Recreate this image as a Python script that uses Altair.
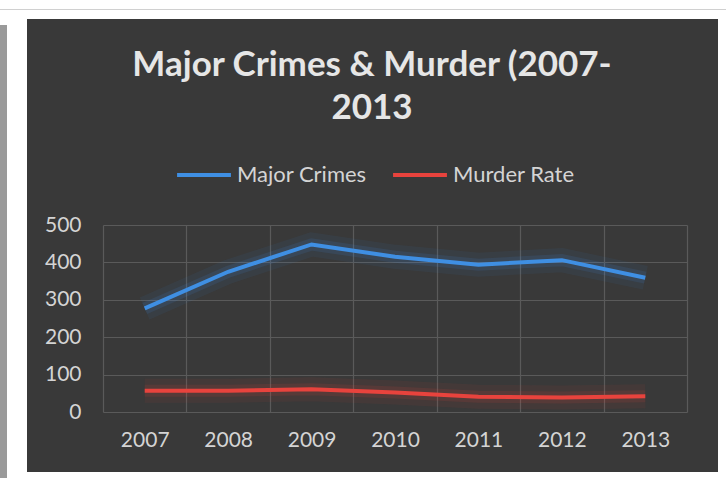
import altair as alt
import pandas as pd

years = ["2007", "2008", "2009", "2010", "2011", "2012", "2013"]
major_crimes = [277, 375, 448, 415, 394, 406, 359]
murder_rate = [57, 57, 61, 52, 41, 39, 42]
series_names = ["Major Crimes", "Murder Rate"]
series_colors = ["#3f8fe3", "#e8433d"]
y_ticks = [0, 100, 200, 300, 400, 500]
title_lines = ["Major Crimes & Murder (2007-", "2013"]

rows = []
for i, yr in enumerate(years):
    rows.append({"year": yr, "series": series_names[0], "value": major_crimes[i]})
    rows.append({"year": yr, "series": series_names[1], "value": murder_rate[i]})
df = pd.DataFrame(rows)

W, H = 584, 187
PL, PT = 103, 225
one = pd.DataFrame({"a": [0]})


def frame_rect(x0, x1, y0, y1, color):
    return alt.Chart(one).mark_rect(color=color, clip=False).encode(
        x=alt.value(x0 - PL), x2=alt.value(x1 - PL),
        y=alt.value(y0 - PT), y2=alt.value(y1 - PT),
    )


frame = [
    frame_rect(0, 726, 0, 19, "#ffffff"),
    frame_rect(0, 27, 0, 478, "#ffffff"),
    frame_rect(718, 726, 0, 478, "#ffffff"),
    frame_rect(0, 726, 472, 478, "#ffffff"),
    frame_rect(0, 7, 25, 478, "#9a9a9a"),
    frame_rect(0, 726, 9, 10, "#d0d0d0"),
]

title = alt.Chart(one).mark_text(
    font="Lato", fontWeight="bold", fontSize=35, color="#e6e6e6",
    lineHeight=43, align="center", baseline="middle",
).encode(x=alt.value(372 - PL), y=alt.value(65 - PT), text=alt.value(title_lines))

x_enc = alt.X("year:O", sort=years,
              scale=alt.Scale(type="band", paddingInner=0, paddingOuter=0),
              axis=alt.Axis(title=None, labelAngle=0, tickBand="extent", grid=True,
                            gridColor="#5a5a5a", gridWidth=1.2, domain=False, ticks=False,
                            labelColor="#d4d4d4", labelFontSize=21, labelFont="Lato",
                            labelPadding=17))
y_enc = alt.Y("value:Q", scale=alt.Scale(domain=[0, 500], nice=False),
              axis=alt.Axis(title=None, values=y_ticks, grid=True, gridColor="#5a5a5a",
                            gridWidth=1.2, domain=False, ticks=False,
                            labelColor="#d4d4d4", labelFontSize=21, labelFont="Lato",
                            labelPadding=22))
color_scale = alt.Scale(domain=series_names, range=series_colors)
legend = alt.Legend(title=None, orient="none", direction="horizontal",
                    legendX=72, legendY=-79,
                    symbolType="stroke", symbolSize=2900,
                    symbolStrokeWidth=4, symbolOpacity=1, labelFontSize=22,
                    labelFont="Lato", labelColor="#d4d4d4",
                    columnPadding=18, labelOffset=4)
color_enc = alt.Color("series:N", sort=series_names, scale=color_scale, legend=legend)

glow1 = alt.Chart(df).mark_line(strokeWidth=24, opacity=0.07).encode(x=x_enc, y=y_enc, color=color_enc)
glow2 = alt.Chart(df).mark_line(strokeWidth=12, opacity=0.12).encode(x=x_enc, y=y_enc, color=color_enc)
lines = alt.Chart(df).mark_line(strokeWidth=4).encode(x=x_enc, y=y_enc, color=color_enc)

chart = alt.layer(*frame, title, glow1, glow2, lines).properties(
    width=W, height=H,
    background="#393939",
    padding={"left": PL, "top": PT, "right": 726 - PL - W, "bottom": 478 - PT - H},
    autosize=alt.AutoSizeParams(type="none"),
).configure_view(stroke=None)

chart.save("out.html", embed_options={"renderer": "svg", "actions": False})
